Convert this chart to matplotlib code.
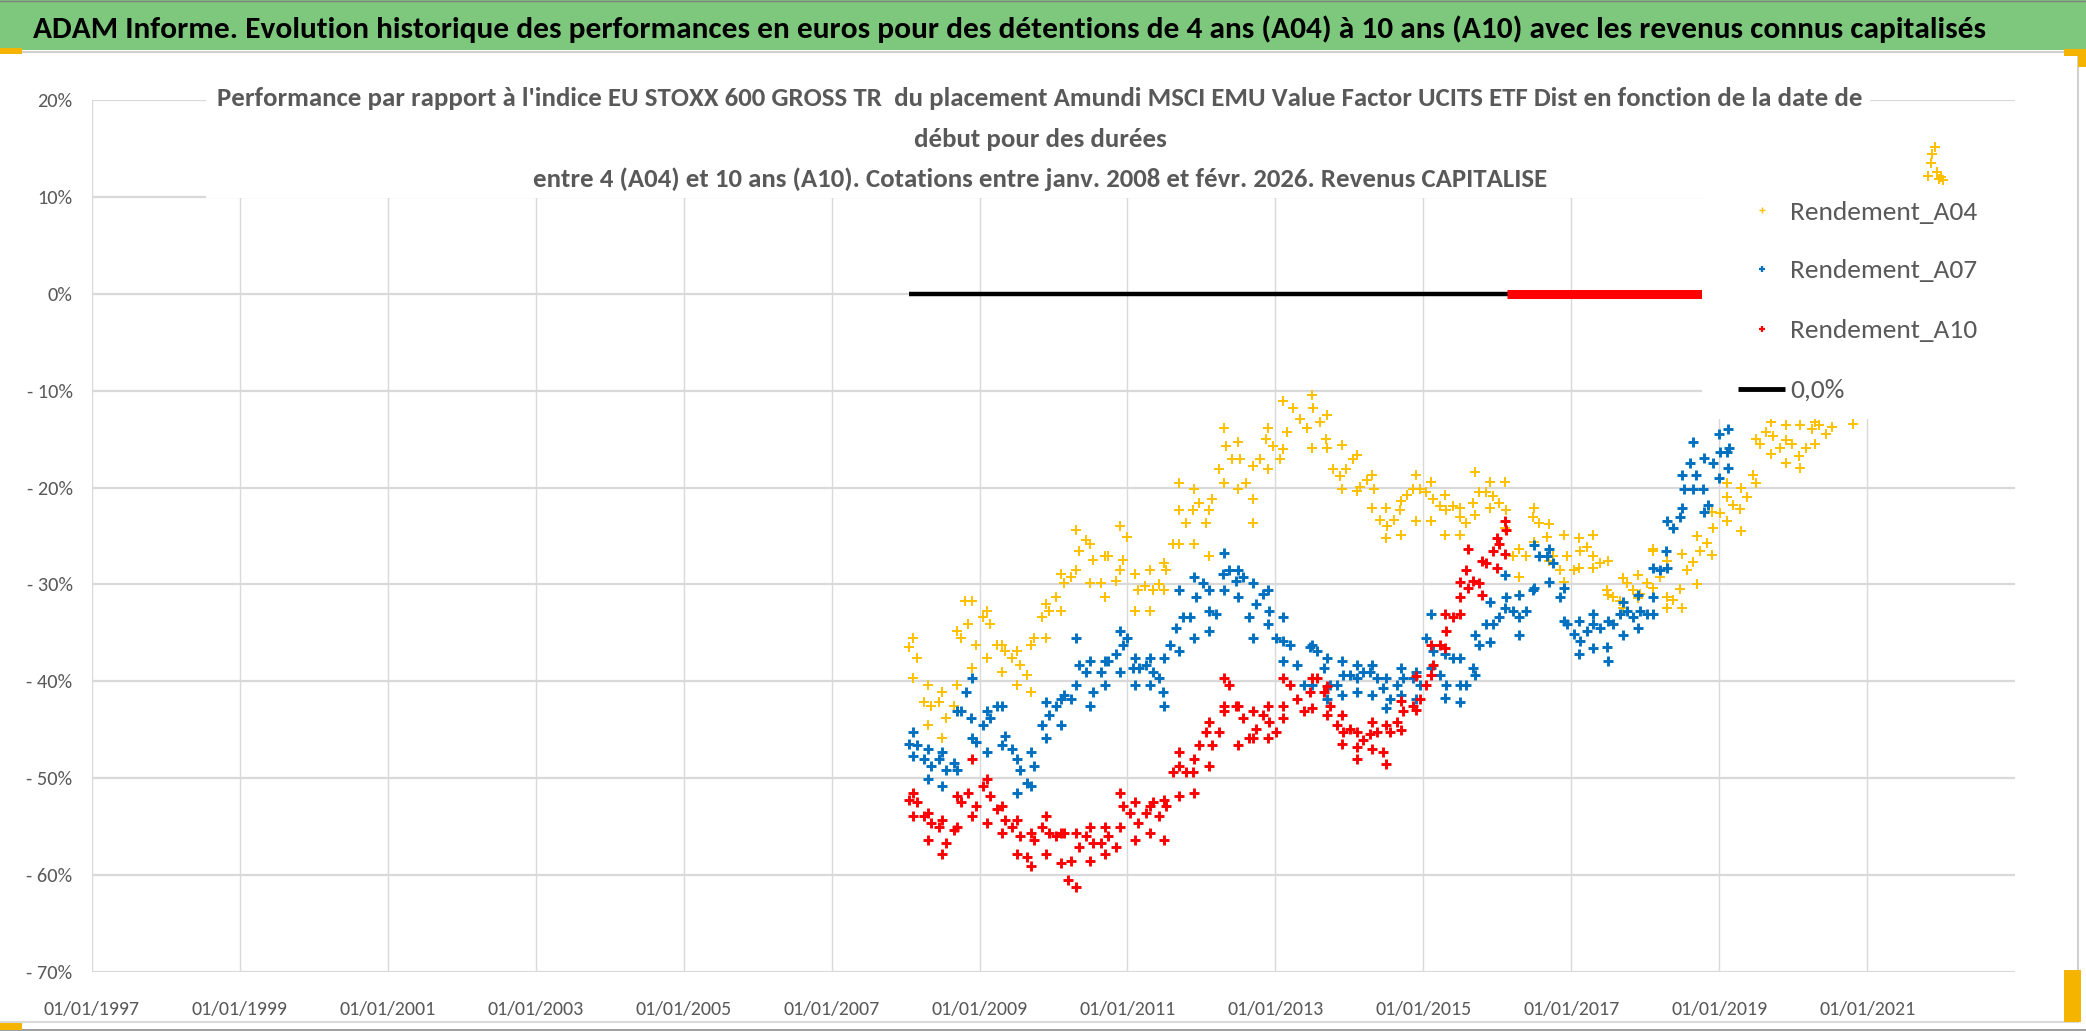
import numpy as np
import pandas as pd
import matplotlib
matplotlib.use("Agg")
import matplotlib.pyplot as plt
from matplotlib import font_manager
from matplotlib.patches import Rectangle
from matplotlib.lines import Line2D
from matplotlib.ticker import FuncFormatter
import matplotlib.dates as mdates

W, H = 2086, 1031

# Values: start date of the holding (decimal year) -> performance vs index (%)
# centre of each point cloud
a04_years = [2008.05, 2008.15, 2008.25, 2008.35, 2008.45, 2008.55, 2008.65, 2008.75, 2008.80, 2008.85,
             2008.95, 2009.05, 2009.14, 2009.24, 2009.34, 2009.44, 2009.54, 2009.64, 2009.74, 2009.84,
             2009.94, 2010.04, 2010.14, 2010.24, 2010.34, 2010.44, 2010.54, 2010.64, 2010.74, 2010.84,
             2010.94, 2011.00, 2011.14, 2011.24, 2011.34, 2011.43, 2011.52, 2011.61, 2011.70, 2011.79,
             2011.88, 2011.97, 2012.06, 2012.15, 2012.24, 2012.33, 2012.42, 2012.52, 2012.61, 2012.70,
             2012.79, 2012.88, 2012.97, 2013.06, 2013.15, 2013.24, 2013.33, 2013.42, 2013.51, 2013.60,
             2013.69, 2013.78, 2013.87, 2013.96, 2014.05, 2014.14, 2014.24, 2014.33, 2014.42, 2014.51,
             2014.60, 2014.69, 2014.78, 2014.86, 2014.95, 2015.04, 2015.13, 2015.22, 2015.31, 2015.40,
             2015.49, 2015.58, 2015.67, 2015.76, 2015.85, 2015.94, 2016.03, 2016.12, 2016.21, 2016.30,
             2016.39, 2016.48, 2016.57, 2016.67, 2016.76, 2016.85, 2016.94, 2017.03, 2017.12, 2017.21,
             2017.30, 2017.39, 2017.48, 2017.57, 2017.66, 2017.75, 2017.84, 2017.93, 2018.02, 2018.11,
             2018.20, 2018.29, 2018.37, 2018.47, 2018.56, 2018.65, 2018.74, 2018.83, 2018.92, 2019.01,
             2019.10, 2019.19, 2019.28, 2019.37, 2019.46, 2019.55, 2019.64, 2019.73, 2019.82, 2019.91,
             2019.99, 2020.08, 2020.17, 2020.26, 2020.35, 2020.45, 2020.52, 2020.81,
             2021.82, 2021.86, 2021.88, 2021.92, 2021.94, 2021.97, 2022.00, 2022.02]
a04_values = [-36.5, -37.6, -42.1, -42.5, -42.1, -43.8, -42.5, -35.5, -31.7, -34.1,
              -36.2, -33.4, -34.1, -36.2, -36.9, -37.6, -38.3, -39.3, -35.5, -33.4,
              -32.7, -31.3, -29.9, -29.2, -26.5, -25.4, -27.5, -29.9, -27.1, -29.6,
              -27.5, -25.1, -30.6, -30.2, -30.6, -30.0, -28.5, -25.8, -22.3, -23.7,
              -22.3, -21.6, -23.7, -21.2, -18.1, -15.7, -17.1, -17.1, -19.5, -21.2,
              -17.1, -15.0, -15.7, -17.1, -14.3, -11.8, -12.9, -13.9, -11.8, -13.2,
              -15.0, -18.1, -18.8, -18.1, -17.1, -19.9, -19.2, -20.2, -23.3, -24.0,
              -23.3, -22.3, -20.8, -20.2, -20.2, -20.5, -21.2, -21.9, -22.3, -21.9,
              -23.0, -23.7, -21.6, -20.5, -20.5, -20.9, -21.6, -22.3, -27.1, -29.2,
              -27.1, -23.0, -23.7, -25.1, -27.1, -28.5, -27.1, -28.5, -26.5, -26.1,
              -27.1, -27.8, -30.6, -31.3, -31.7, -29.9, -30.6, -31.0, -29.9, -26.5,
              -29.2, -31.3, -31.6, -30.5, -28.5, -27.7, -26.5, -25.7, -24.2, -22.6,
              -21.0, -21.8, -22.2, -21.0, -18.7, -15.5, -14.3, -14.7, -15.9, -15.1,
              -15.5, -16.7, -15.9, -14.0, -13.5, -14.5, -13.8, -13.4,
              12.2, 13.5, 14.4, 15.2, 12.6, 11.8, 12.1, 11.7]
# upper / lower edge of the cloud, read every ~0.2 year
a04_band_years = [2008.1, 2008.3, 2008.5, 2008.7, 2008.9, 2009.1, 2009.3, 2009.5, 2009.7, 2009.9,
                  2010.1, 2010.3, 2010.5, 2010.7, 2010.9, 2011.1, 2011.3, 2011.5, 2011.7, 2011.9,
                  2012.1, 2012.3, 2012.5, 2012.7, 2012.9, 2013.1, 2013.5, 2013.7, 2013.9, 2014.1,
                  2014.3, 2014.5, 2014.7, 2014.9, 2015.1, 2015.3, 2015.5, 2015.7, 2015.9, 2016.1,
                  2016.3, 2016.5, 2016.7, 2016.9, 2017.1, 2017.3, 2017.5, 2017.7, 2017.9, 2018.1,
                  2018.3, 2018.5, 2018.7, 2018.9, 2019.1, 2019.3, 2019.5, 2019.7, 2019.9, 2020.1,
                  2020.3]
a04_band_hi = [-35.5, -40.4, -41.1, -34.8, -31.7, -32.7, -36.2, -36.9, -36.2, -32.0,
               -28.9, -24.4, -25.8, -27.1, -24.0, -28.9, -28.5, -27.8, -19.5, -20.2,
               -22.3, -13.9, -15.3, -17.8, -13.9, -11.1, -10.4, -12.5, -15.6, -16.6,
               -18.7, -22.1, -21.4, -18.7, -19.4, -20.8, -22.1, -18.4, -19.4, -19.4,
               -26.3, -22.1, -23.8, -24.9, -25.2, -24.9, -27.6, -29.3, -29.0, -26.3,
               -27.6, -26.9, -25.0, -22.5, -19.5, -20.0, -15.0, -13.2, -13.5, -13.5,
               -13.2]
a04_band_lo = [-39.7, -44.5, -45.9, -40.4, -38.6, -37.6, -39.0, -40.4, -41.1, -35.5,
               -32.7, -28.5, -29.9, -31.3, -28.5, -32.7, -32.7, -30.6, -25.8, -25.8,
               -27.1, -19.5, -20.2, -23.7, -18.1, -16.0, -15.9, -15.9, -20.1, -20.4,
               -22.1, -25.2, -24.9, -23.5, -23.5, -24.9, -24.9, -22.8, -22.1, -24.2,
               -31.1, -25.6, -27.6, -29.7, -28.3, -28.3, -31.1, -32.4, -31.4, -30.4,
               -32.4, -32.4, -30.0, -27.0, -23.5, -24.5, -19.5, -16.5, -17.5, -18.0,
               -15.5]

a07_years = [2008.05, 2008.15, 2008.25, 2008.35, 2008.45, 2008.55, 2008.65, 2008.75, 2008.82, 2008.89,
             2008.95, 2009.05, 2009.14, 2009.24, 2009.34, 2009.44, 2009.54, 2009.64, 2009.74, 2009.84,
             2009.94, 2010.04, 2010.14, 2010.24, 2010.34, 2010.44, 2010.54, 2010.64, 2010.74, 2010.84,
             2010.94, 2011.00, 2011.08, 2011.16, 2011.25, 2011.34, 2011.43, 2011.48, 2011.57, 2011.66,
             2011.75, 2011.84, 2011.93, 2012.02, 2012.11, 2012.20, 2012.29, 2012.38, 2012.47, 2012.56,
             2012.65, 2012.74, 2012.83, 2012.92, 2013.01, 2013.10, 2013.19, 2013.29, 2013.38, 2013.47,
             2013.56, 2013.65, 2013.74, 2013.83, 2013.92, 2014.01, 2014.10, 2014.19, 2014.28, 2014.37,
             2014.46, 2014.55, 2014.64, 2014.73, 2014.86, 2014.95, 2015.04, 2015.13, 2015.22, 2015.31,
             2015.40, 2015.49, 2015.58, 2015.67, 2015.76, 2015.85, 2015.94, 2016.03, 2016.12, 2016.21,
             2016.30, 2016.39, 2016.48, 2016.57, 2016.67, 2016.76, 2016.85, 2016.94, 2017.03, 2017.12,
             2017.21, 2017.30, 2017.39, 2017.48, 2017.57, 2017.66, 2017.75, 2017.84, 2017.93, 2018.02,
             2018.11, 2018.20, 2018.28, 2018.37, 2018.47, 2018.53, 2018.60, 2018.69, 2018.78, 2018.85,
             2018.92, 2019.01, 2019.10, 2019.14]
a07_values = [-46.5, -46.6, -48.0, -48.7, -48.0, -49.1, -48.4, -43.1, -41.1, -43.8,
              -46.3, -44.5, -43.8, -42.5, -45.6, -47.0, -49.1, -50.5, -48.7, -44.5,
              -43.5, -42.5, -41.4, -41.8, -38.3, -39.0, -41.1, -39.0, -37.9, -37.2,
              -36.2, -35.5, -38.6, -38.6, -38.3, -39.0, -39.7, -41.1, -36.2, -34.5,
              -33.4, -33.4, -31.3, -29.9, -32.7, -33.1, -28.9, -28.5, -29.6, -29.2,
              -33.4, -32.0, -31.0, -32.7, -35.5, -35.8, -36.2, -38.3, -40.4, -36.5,
              -36.9, -38.6, -40.4, -40.4, -39.3, -39.3, -39.7, -39.0, -39.0, -39.7,
              -40.7, -41.8, -40.4, -39.7, -39.7, -40.4, -35.5, -36.9, -39.3, -40.4,
              -37.6, -40.4, -40.4, -38.6, -36.2, -34.1, -34.1, -33.4, -31.3, -32.7,
              -33.4, -32.7, -30.6, -27.1, -27.1, -27.8, -31.3, -34.1, -35.1, -35.8,
              -34.8, -34.1, -34.5, -36.5, -34.1, -33.1, -32.7, -33.4, -32.7, -33.1,
              -31.3, -28.5, -26.5, -24.2, -23.0, -20.2, -17.5, -18.7, -20.2, -21.8,
              -17.5, -16.3, -16.3, -15.9]
a07_band_years = [2008.1, 2008.3, 2008.5, 2008.7, 2008.9, 2009.1, 2009.3, 2009.5, 2009.7, 2009.9,
                  2010.1, 2010.3, 2010.5, 2010.7, 2010.9, 2011.1, 2011.3, 2011.5, 2011.7, 2011.9,
                  2012.1, 2012.3, 2012.5, 2012.7, 2012.9, 2013.1, 2013.5, 2013.7, 2013.9, 2014.1,
                  2014.3, 2014.5, 2014.7, 2014.9, 2015.1, 2015.3, 2015.5, 2015.7, 2015.9, 2016.1,
                  2016.3, 2016.5, 2016.7, 2016.9, 2017.1, 2017.3, 2017.5, 2017.7, 2017.9, 2018.1,
                  2018.3, 2018.5, 2018.65, 2018.8, 2019.0, 2019.12]
a07_band_hi = [-45.2, -47.0, -47.3, -43.1, -39.7, -43.1, -42.5, -48.0, -47.3, -42.1,
               -41.8, -35.5, -37.9, -37.9, -34.8, -37.6, -37.6, -37.6, -30.6, -29.2,
               -30.6, -26.8, -28.5, -29.9, -30.6, -33.4, -36.2, -37.6, -37.9, -38.3,
               -38.3, -39.7, -38.6, -39.0, -33.1, -37.2, -37.6, -35.2, -31.8, -29.0,
               -31.1, -25.9, -26.3, -30.4, -33.8, -33.1, -33.8, -31.8, -31.1, -28.3,
               -23.5, -18.7, -15.3, -17.0, -14.5, -14.0]
a07_band_lo = [-47.7, -50.1, -50.8, -49.1, -45.9, -47.3, -46.6, -51.5, -50.8, -45.9,
               -44.5, -40.4, -42.5, -40.4, -39.0, -40.4, -40.4, -42.5, -36.9, -35.5,
               -34.8, -30.6, -31.3, -35.5, -34.1, -37.9, -40.4, -41.8, -41.4, -41.1,
               -41.4, -42.8, -41.4, -41.8, -38.6, -41.7, -42.1, -39.3, -35.9, -32.4,
               -35.2, -30.4, -29.7, -33.8, -37.2, -36.6, -37.9, -35.2, -34.5, -33.1,
               -28.3, -22.1, -20.1, -22.5, -19.0, -18.0]

a10_years = [2008.05, 2008.15, 2008.25, 2008.35, 2008.45, 2008.55, 2008.65, 2008.75, 2008.85, 2008.95,
             2009.05, 2009.14, 2009.24, 2009.34, 2009.44, 2009.54, 2009.64, 2009.74, 2009.84, 2009.94,
             2010.04, 2010.14, 2010.20, 2010.24, 2010.34, 2010.44, 2010.54, 2010.64, 2010.74, 2010.84,
             2010.94, 2011.04, 2011.14, 2011.25, 2011.34, 2011.43, 2011.52, 2011.61, 2011.70, 2011.79,
             2011.88, 2011.97, 2012.06, 2012.15, 2012.24, 2012.31, 2012.38, 2012.47, 2012.56, 2012.65,
             2012.74, 2012.83, 2012.92, 2013.01, 2013.10, 2013.19, 2013.29, 2013.38, 2013.47, 2013.56,
             2013.65, 2013.74, 2013.83, 2013.92, 2014.01, 2014.10, 2014.19, 2014.28, 2014.37, 2014.46,
             2014.55, 2014.64, 2014.73, 2014.86, 2014.95, 2015.04, 2015.13, 2015.22, 2015.31, 2015.40,
             2015.49, 2015.58, 2015.67, 2015.76, 2015.85, 2015.94, 2016.03, 2016.12]
a10_values = [-52.2, -52.5, -53.9, -54.6, -55.0, -56.7, -55.3, -52.5, -51.5, -52.9,
              -50.8, -51.8, -53.2, -54.3, -55.0, -56.0, -58.1, -56.4, -55.0, -55.7,
              -56.0, -55.7, -60.5, -58.5, -57.1, -56.0, -56.7, -56.7, -56.0, -57.1,
              -52.9, -53.6, -54.6, -53.6, -52.5, -53.9, -52.9, -49.4, -48.7, -49.4,
              -49.4, -46.6, -45.2, -46.6, -45.2, -42.5, -40.4, -42.5, -43.8, -45.9,
              -44.9, -43.5, -44.2, -45.2, -42.5, -40.4, -41.8, -43.1, -41.1, -39.7,
              -41.1, -42.5, -44.5, -45.2, -44.9, -46.8, -46.1, -45.4, -45.2, -47.3,
              -45.2, -44.2, -43.1, -42.5, -41.8, -40.4, -38.3, -36.2, -34.8, -33.4,
              -31.3, -28.5, -29.6, -29.9, -27.8, -26.5, -25.8, -24.4]
a10_band_years = [2008.1, 2008.3, 2008.5, 2008.7, 2008.9, 2009.1, 2009.3, 2009.5, 2009.7, 2009.9,
                  2010.1, 2010.3, 2010.5, 2010.7, 2010.9, 2011.1, 2011.3, 2011.5, 2011.7, 2011.9,
                  2012.1, 2012.3, 2012.5, 2012.7, 2012.9, 2013.1, 2013.5, 2013.7, 2013.9, 2014.1,
                  2014.3, 2014.5, 2014.7, 2014.9, 2015.1, 2015.3, 2015.5, 2015.6, 2015.8, 2016.0,
                  2016.1]
a10_band_hi = [-51.5, -53.6, -54.3, -51.8, -48.0, -50.1, -52.9, -54.3, -55.7, -53.9,
               -55.7, -55.7, -55.0, -55.0, -51.5, -52.5, -52.9, -52.2, -47.3, -48.0,
               -44.2, -39.7, -42.5, -43.1, -42.5, -39.7, -39.7, -40.5, -43.5, -45.2,
               -44.2, -44.5, -42.0, -39.5, -36.2, -33.1, -29.7, -26.3, -27.6, -25.2,
               -23.5]
a10_band_lo = [-53.9, -56.4, -57.8, -55.0, -53.9, -54.6, -55.7, -57.8, -59.1, -57.8,
               -58.8, -61.2, -58.5, -57.8, -55.0, -56.4, -55.7, -56.4, -51.8, -51.5,
               -48.7, -43.1, -46.6, -45.9, -45.9, -43.8, -42.8, -43.5, -46.5, -48.0,
               -47.0, -48.5, -45.0, -43.0, -39.3, -36.6, -33.1, -30.4, -31.1, -28.3,
               -26.9]

# after Feb 2016 there is no full 10-year window: A10 sits at 0 up to the end of the data
a10_zero_span = ["2016-02-20", "2026-02-01"]
zero_line_span = ["2008-01-18", "2026-02-01"]

x_range = ["1997-01-01", "2023-01-01"]
x_ticks = [f"{y}-01-01" for y in range(1997, 2022, 2)]
y_ticks = [20, 10, 0, -10, -20, -30, -40, -50, -60, -70]

title = ("ADAM Informe. Evolution historique des performances en euros pour des détentions "
         "de 4 ans (A04) à 10 ans (A10) avec les revenus connus capitalisés")
subtitle_lines = [
    "Performance par rapport à l'indice EU STOXX 600 GROSS TR  du placement Amundi MSCI EMU "
    "Value Factor UCITS ETF Dist en fonction de la date de",
    "début pour des durées",
    "entre 4 (A04) et 10 ans (A10). Cotations entre janv. 2008 et févr. 2026. Revenus CAPITALISE",
]
legend_labels = ["Rendement_A04", "Rendement_A07", "Rendement_A10", "0,0%"]

YELLOW, BLUE, RED = "#FFC000", "#0070C0", "#FF0000"
GREY_TXT = "#595959"
GRID = "#D9D9D9"
GREEN = "#7DC87D"


def pick_font(candidates):
    names = {f.name for f in font_manager.fontManager.ttflist}
    for c in candidates:
        if c in names:
            return c
    return "DejaVu Sans"


FONT = pick_font(["Carlito", "Liberation Sans Narrow", "Roboto Condensed", "Liberation Sans"])
plt.rcParams["font.family"] = [FONT, "DejaVu Sans"]


def to_dates(years):
    out = []
    for y in years:
        base = pd.Timestamp(year=int(y), month=1, day=1)
        out.append(base + pd.Timedelta(days=(y - int(y)) * 365.25))
    return out


# pixel helpers (origin top-left, like the screenshot)
def fx(x):
    return x / W


def fy(y):
    return 1 - y / H


fig = plt.figure(figsize=(W / 100, H / 100), dpi=100)
renderer = fig.canvas.get_renderer()


def fit_size(text, width, weight="normal", base=20):
    t = fig.text(0, 0, text, fontsize=base, fontweight=weight)
    w = t.get_window_extent(renderer).width
    t.remove()
    return base * width / w


ax = fig.add_axes([fx(92), fy(972), fx(2015) - fx(92), fy(100) - fy(972)])

ax.plot(pd.to_datetime(zero_line_span), [0, 0], color="black", lw=3.2, zorder=2,
        solid_capstyle="butt")

series = [
    (a04_years, a04_values, a04_band_years, a04_band_hi, a04_band_lo, YELLOW, 1.4, 3),
    (a07_years, a07_values, a07_band_years, a07_band_hi, a07_band_lo, BLUE, 2.1, 4),
    (a10_years, a10_values, a10_band_years, a10_band_hi, a10_band_lo, RED, 2.1, 5),
]
for yrs, vals, byrs, hi, lo, col, mew, z in series:
    style = dict(ls="none", marker="+", ms=7.6, mew=mew, color=col, zorder=z)
    ax.plot(to_dates(yrs), vals, **style)
    ax.plot(to_dates(byrs), hi, **style)
    ax.plot(to_dates(byrs), lo, **style)

ax.plot(pd.to_datetime(a10_zero_span), [0, 0], color=RED, lw=6.5, zorder=5,
        solid_capstyle="butt")

ax.set_xlim(pd.to_datetime(x_range))
ax.set_ylim(-70, 20)
ax.set_xticks(pd.to_datetime(x_ticks))
ax.xaxis.set_major_formatter(mdates.DateFormatter("%d/%m/%Y"))
ax.set_yticks(y_ticks)
ax.yaxis.set_major_formatter(FuncFormatter(lambda v, p: f"{v:.0f}%" if v >= 0 else f"- {abs(v):.0f}%"))
ax.grid(axis="y", color=GRID, lw=1.6, zorder=0)
ax.grid(axis="x", color=GRID, lw=1.0, zorder=0)
ax.set_axisbelow(True)
for s in ax.spines.values():
    s.set_visible(False)

xs = fit_size("01/01/1997", 96)
ys = fit_size("- 70%", 46)
ax.tick_params(axis="x", length=0, labelsize=xs, labelcolor=GREY_TXT, pad=21)
ax.tick_params(axis="y", length=0, labelsize=ys, labelcolor=GREY_TXT, pad=14)

# green header band with the main title
fig.add_artist(Rectangle((0, fy(50)), 1, 50 / H, transform=fig.transFigure,
                         facecolor=GREEN, edgecolor="none", zorder=1))
fig.add_artist(Line2D([0, 1], [fy(0.5), fy(0.5)], transform=fig.transFigure, color="#7F7F7F", lw=1))
fig.add_artist(Line2D([0, fx(2079)], [fy(51.5), fy(51.5)], transform=fig.transFigure,
                      color="#D0D0D0", lw=1.5))
ts = fit_size(title, 1953, "bold")
fig.text(fx(1009.5), fy(38), title, fontsize=ts, fontweight="bold", color="black",
         ha="center", va="baseline", zorder=3)

# chart area border and selection handles
fig.add_artist(Line2D([fx(2078), fx(2078)], [fy(52), fy(1022)], transform=fig.transFigure,
                      color="#D0D0D0", lw=1.5))
fig.add_artist(Line2D([0, fx(2078)], [fy(1022), fy(1022)], transform=fig.transFigure,
                      color="#D9D9D9", lw=1.5))
fig.add_artist(Line2D([0, 1], [fy(1030), fy(1030)], transform=fig.transFigure,
                      color="#8C8C8C", lw=1.2))
for (x0, y0, x1, y1) in [(0, 48, 22, 54), (2064, 49, 2086, 56), (2078, 49, 2086, 67),
                         (2064, 970, 2081, 1022), (0, 1023, 22, 1030)]:
    fig.add_artist(Rectangle((fx(x0), fy(y1)), (x1 - x0) / W, (y1 - y0) / H,
                             transform=fig.transFigure, facecolor="#F5B400",
                             edgecolor="none", zorder=2))

# chart title box (white, hides the gridlines behind it)
fig.add_artist(Rectangle((fx(206), fy(198)), (1870 - 206) / W, (198 - 76) / H,
                         transform=fig.transFigure, facecolor="white", edgecolor="none", zorder=5))
ss = fit_size(subtitle_lines[0], 1647, "bold")
for line, base in zip(subtitle_lines, [106, 147, 187]):
    fig.text(fx(1040), fy(base), line, fontsize=ss, fontweight="bold", color=GREY_TXT,
             ha="center", va="baseline", zorder=6)

# legend
fig.add_artist(Rectangle((fx(1702), fy(419)), (2015 - 1702) / W, (419 - 188) / H,
                         transform=fig.transFigure, facecolor="white", edgecolor="none", zorder=5))
ls_ = fit_size(legend_labels[0], 187)
rows = [210, 269, 328.5, 388.5]
for col, mew, y in zip([YELLOW, BLUE, RED], [1.0, 1.6, 1.6], rows[:3]):
    fig.add_artist(Line2D([fx(1762)], [fy(y)], transform=fig.transFigure, ls="none",
                          marker="+", ms=5, mew=mew, color=col, zorder=6))
fig.add_artist(Line2D([fx(1738), fx(1785)], [fy(rows[3]), fy(rows[3])],
                      transform=fig.transFigure, color="black", lw=3.5, zorder=6,
                      solid_capstyle="butt"))
for lab, y in zip(legend_labels, rows):
    fig.text(fx(1790), fy(y + 9.5), lab, fontsize=ls_, color=GREY_TXT,
             ha="left", va="baseline", zorder=7)

fig.savefig("out.png", dpi=100)
